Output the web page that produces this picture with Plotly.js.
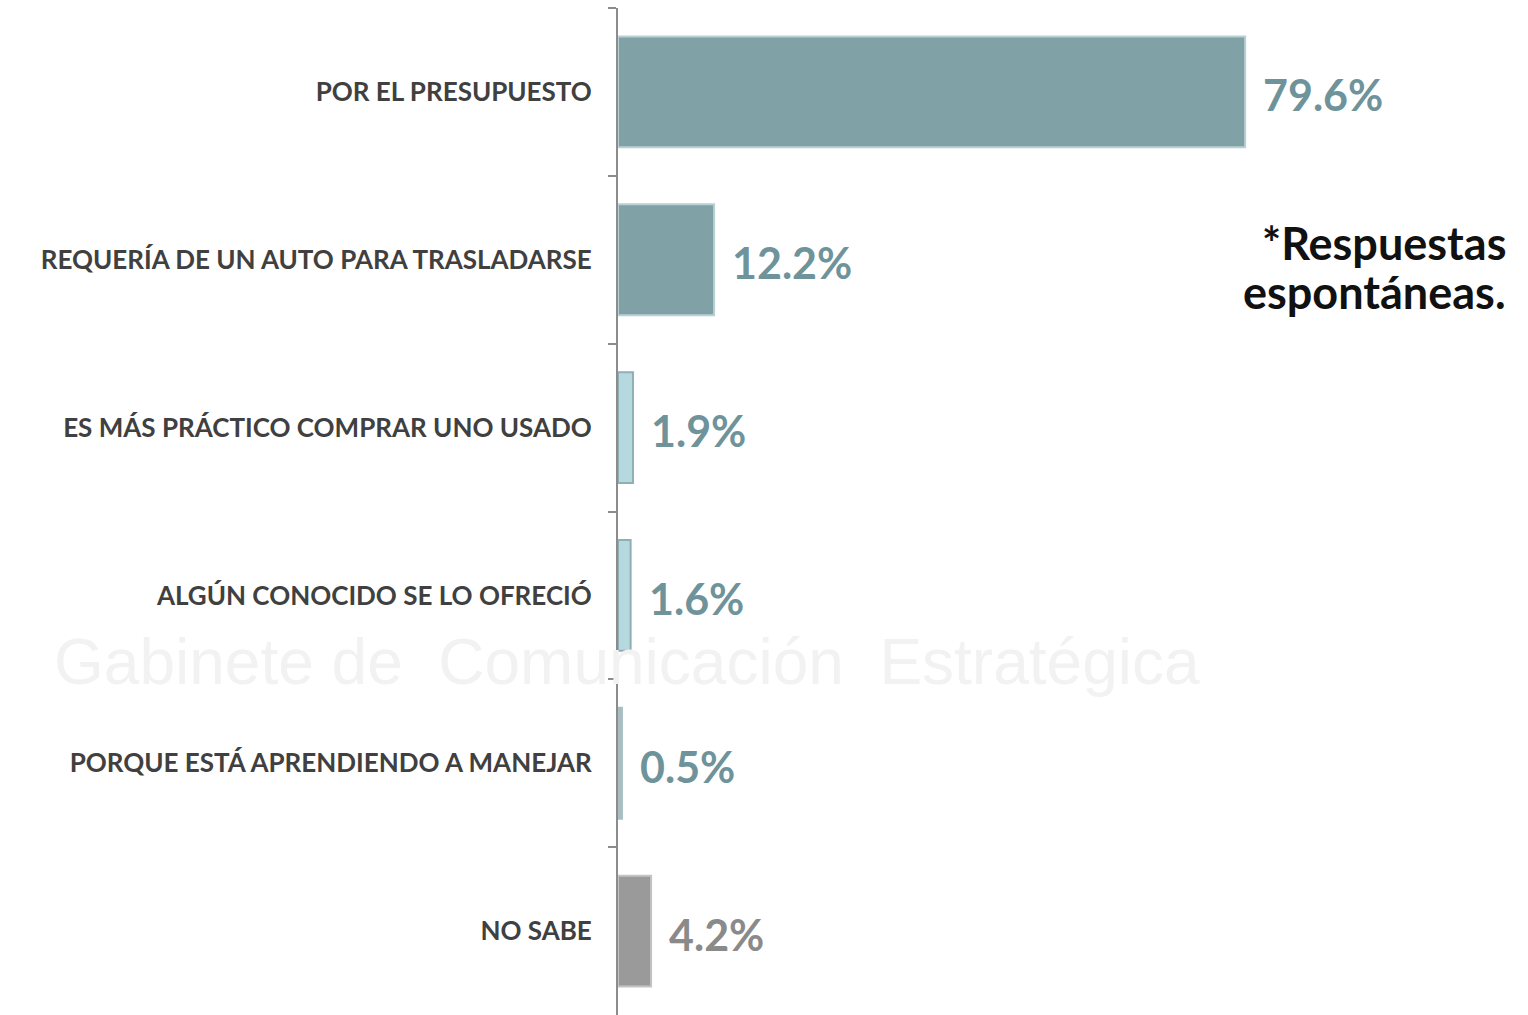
<!DOCTYPE html>
<html><head><meta charset="utf-8">
<script src="https://cdn.plot.ly/plotly-3.0.1.min.js"></script>
<style>html,body{margin:0;padding:0;background:#fff;}#chart{width:1528px;height:1015px;}</style>
</head><body><div id="chart"></div>
<script>
const categories = ["POR EL PRESUPUESTO","REQUERÍA DE UN AUTO PARA TRASLADARSE","ES MÁS PRÁCTICO COMPRAR UNO USADO","ALGÚN CONOCIDO SE LO OFRECIÓ","PORQUE ESTÁ APRENDIENDO A MANEJAR","NO SABE"];
const values = [79.6, 12.2, 1.9, 1.6, 0.5, 4.2];
const labels = ["79.6%","12.2%","1.9%","1.6%","0.5%","4.2%"];
const barColors = ["#80A1A6","#80A1A6","#B6D9DF","#B6D9DF","#A9BEC2","#9A9A9A"];
const lineColors = ["#B9D0D4","#B9D0D4","#8FAFB5","#8FAFB5","#A9BEC2","#C4C4C4"];
const labelColors = ["#6F939A","#6F939A","#6F939A","#6F939A","#6F939A","#8A8A8A"];

const font = "Lato, 'DejaVu Sans', sans-serif";
const annotations = values.map((v,i)=>({
  x: v, y: categories[i], xref:'x', yref:'y', text: labels[i],
  showarrow:false, xanchor:'left', yanchor:'middle', xshift:16, yshift:-3,
  font:{family:font, size:43, color:labelColors[i], weight:700}
}));
const wm = [
  {xref:'paper', yref:'paper', x:-0.622, y:0.3505, xanchor:'left', yanchor:'middle', text:'Gabinete de  Comunicación  Estratégica', showarrow:false, font:{family:"'Liberation Sans', sans-serif", size:64, color:'#F2F2F2'}}
];
const notes = [
  {xref:'paper', yref:'paper', x:0.978, y:0.767, xanchor:'right', yanchor:'middle', align:'right',
   text:'*Respuestas', showarrow:false, font:{family:font, size:45, color:'#111111', weight:700}},
  {xref:'paper', yref:'paper', x:0.978, y:0.718, xanchor:'right', yanchor:'middle', align:'right',
   text:'espontáneas.', showarrow:false, font:{family:font, size:45, color:'#111111', weight:700}}
];

const trace = {
  type:'bar', orientation:'h', x: values, y: categories,
  marker:{color: barColors, line:{color: lineColors, width:2}},
  width: 0.66, hoverinfo:'none', cliponaxis:false
};
const layout = {
  width:1528, height:1015,
  margin:{l:618, r:0, t:8, b:0},
  paper_bgcolor:'#fff', plot_bgcolor:'rgba(0,0,0,0)',
  showlegend:false,
  xaxis:{range:[0,115.5], visible:false, fixedrange:true},
  yaxis:{type:'category', categoryorder:'array', categoryarray: categories, autorange:'reversed',
    showline:true, linecolor:'#8C8C8C', linewidth:2, ticks:'outside', tickson:'boundaries',
    ticklen:8, tickcolor:'#8C8C8C', tickwidth:2, ticklabelstandoff:19,
    tickfont:{family:font, size:26, color:'#404040', weight:700}, showgrid:false, zeroline:false},
  annotations: wm.concat(annotations).concat(notes)
};
Plotly.newPlot('chart',[trace],layout,{displayModeBar:false, staticPlot:true});
</script></body></html>
